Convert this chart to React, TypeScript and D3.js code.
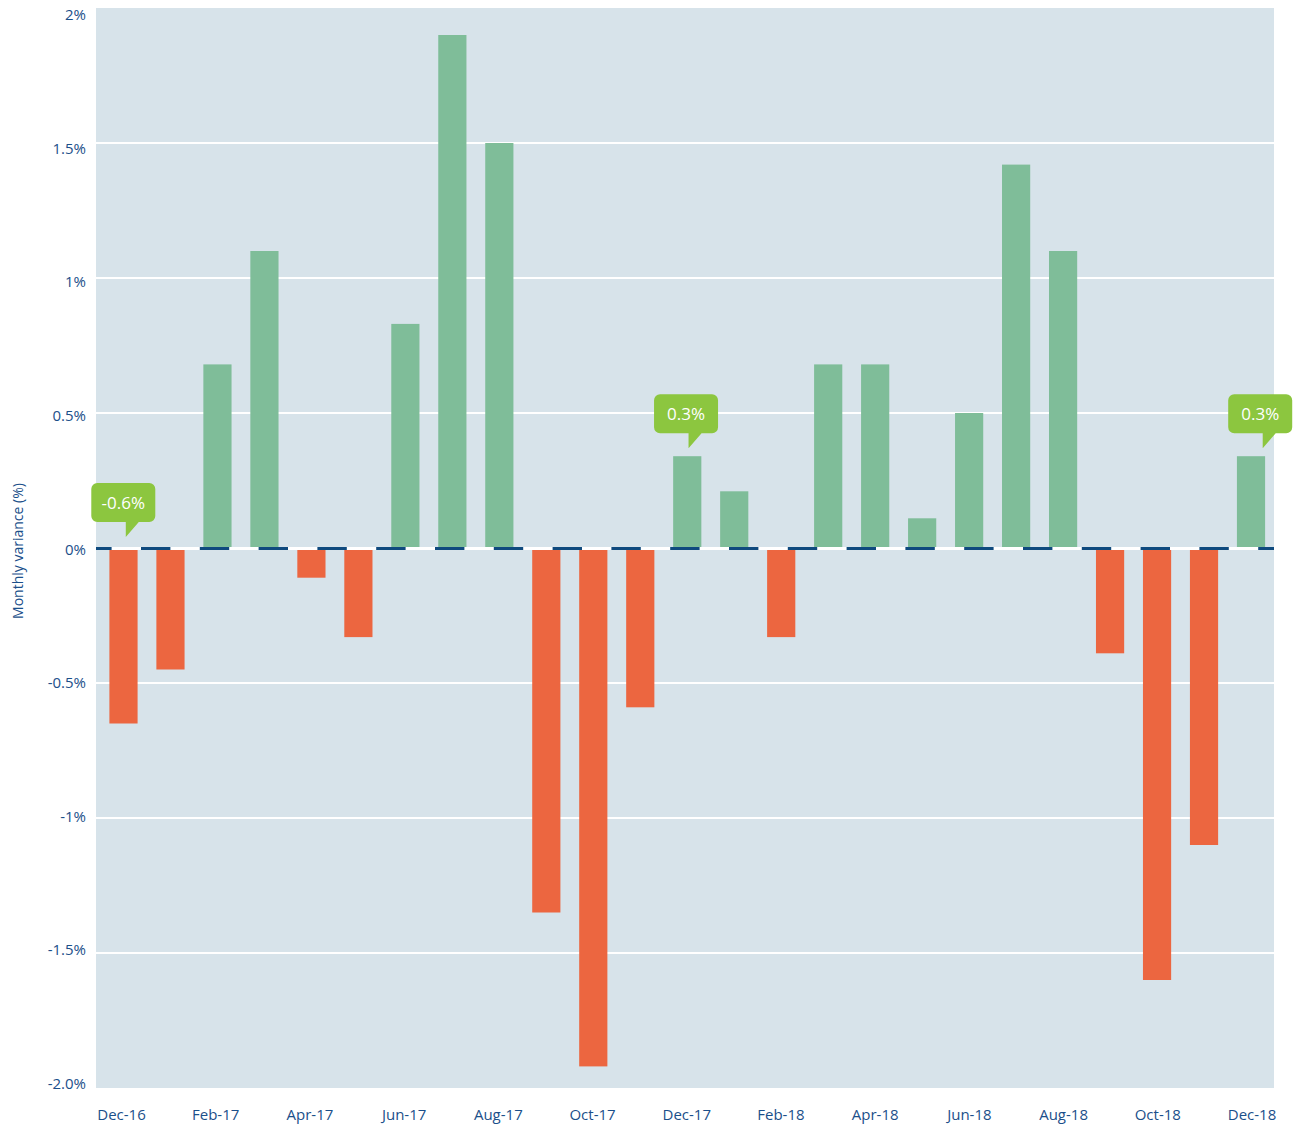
import React from 'react';
import * as d3 from 'd3';

const months = [
  'Dec-16', 'Jan-17', 'Feb-17', 'Mar-17', 'Apr-17', 'May-17', 'Jun-17', 'Jul-17', 'Aug-17',
  'Sep-17', 'Oct-17', 'Nov-17', 'Dec-17', 'Jan-18', 'Feb-18', 'Mar-18', 'Apr-18', 'May-18',
  'Jun-18', 'Jul-18', 'Aug-18', 'Sep-18', 'Oct-18', 'Nov-18', 'Dec-18',
];
const variance = [
  -0.65, -0.45, 0.68, 1.1, -0.11, -0.33, 0.83, 1.9, 1.5,
  -1.35, -1.92, -0.59, 0.34, 0.21, -0.33, 0.68, 0.68, 0.11,
  0.5, 1.42, 1.1, -0.39, -1.6, -1.1, 0.34,
];
const xTickLabels = [
  'Dec-16', 'Feb-17', 'Apr-17', 'Jun-17', 'Aug-17', 'Oct-17', 'Dec-17',
  'Feb-18', 'Apr-18', 'Jun-18', 'Aug-18', 'Oct-18', 'Dec-18',
];
const yTickValues = [2, 1.5, 1, 0.5, 0, -0.5, -1, -1.5, -2];
const yTickLabels = ['2%', '1.5%', '1%', '0.5%', '0%', '-0.5%', '-1%', '-1.5%', '-2.0%'];
const calloutMonths = ['Dec-16', 'Dec-17', 'Dec-18'];
const calloutLabels = ['-0.6%', '0.3%', '0.3%'];

const W = 1294;
const H = 1126;
const PLOT = { left: 96, right: 1274, top: 8, bottom: 1088 };
const FONT = '"Open Sans", "Noto Sans", sans-serif';
const NAVY = '#1b4f8a';
const GREEN = '#7fbd99';
const RED = '#ec6640';
const BG = '#d7e3ea';
const CALLOUT = '#8cc63f';

export default function App() {
  const y = d3.scaleLinear().domain([-2, 2]).range([PLOT.bottom, PLOT.top]);
  const yLabel = d3.scaleLinear().domain([-2, 2]).range([1083, 14]);
  const x = d3
    .scaleBand<string>()
    .domain(months)
    .range([100, 1274.5])
    .paddingInner(0.4)
    .paddingOuter(0.2);
  const xLabel = d3.scalePoint<string>().domain(xTickLabels).range([121.5, 1252]);
  const bw = x.bandwidth();
  const y0 = y(0);

  // per-callout placement nudges relative to the bar centre (style only)
  const tipOffset: Record<string, number> = { 'Dec-16': 2.3, 'Dec-17': 1.3, 'Dec-18': 11.7 };

  const callouts = calloutMonths.map((m, i) => {
    const idx = months.indexOf(m);
    const v = variance[idx];
    const cx = (x(m) as number) + bw / 2;
    const tipX = cx + (tipOffset[m] || 0);
    const tipY = v >= 0 ? y(v) - 8 : y0 - 11;
    const boxW = 64;
    const boxH = 39;
    const ptrH = 15;
    const ptrW = 13;
    const bx = tipX - 34.5;
    const bBottom = tipY - ptrH;
    const by = bBottom - boxH;
    const r = 6;
    const p = d3.path();
    p.moveTo(bx + r, by);
    p.lineTo(bx + boxW - r, by);
    p.arcTo(bx + boxW, by, bx + boxW, by + r, r);
    p.lineTo(bx + boxW, bBottom - r);
    p.arcTo(bx + boxW, bBottom, bx + boxW - r, bBottom, r);
    p.lineTo(tipX + ptrW, bBottom);
    p.lineTo(tipX, tipY);
    p.lineTo(tipX, bBottom);
    p.lineTo(bx + r, bBottom);
    p.arcTo(bx, bBottom, bx, bBottom - r, r);
    p.lineTo(bx, by + r);
    p.arcTo(bx, by, bx + r, by, r);
    p.closePath();
    return { key: m, d: p.toString(), tx: bx + boxW / 2, ty: by + boxH / 2, label: calloutLabels[i] };
  });

  return (
    <svg
      width={W}
      height={H}
      style={{ position: 'absolute', left: 0, top: 0, fontFamily: FONT }}
    >
      <rect
        x={PLOT.left}
        y={PLOT.top}
        width={PLOT.right - PLOT.left}
        height={PLOT.bottom - PLOT.top}
        fill={BG}
      />
      {yTickValues
        .filter((v) => v !== 2 && v !== -2)
        .map((v) => (
          <line
            key={'g' + v}
            x1={PLOT.left}
            x2={PLOT.right}
            y1={y(v)}
            y2={y(v)}
            stroke="#ffffff"
            strokeWidth={2}
          />
        ))}
      {months.map((m, i) => {
        const v = variance[i];
        const top = v >= 0 ? y(v) : y0;
        const h = Math.abs(y(v) - y0);
        return (
          <rect
            key={m}
            x={x(m)}
            y={top}
            width={bw}
            height={h}
            fill={v >= 0 ? GREEN : RED}
          />
        );
      })}
      <line x1={PLOT.left} x2={PLOT.right} y1={y0 + 0.5} y2={y0 + 0.5} stroke="#ffffff" strokeWidth={3} />
      <line
        x1={PLOT.left}
        x2={PLOT.right}
        y1={y0 + 0.5}
        y2={y0 + 0.5}
        stroke="#0f4a7e"
        strokeWidth={3}
        strokeDasharray="29.4 29.4"
        strokeDashoffset={13.8}
      />
      {yTickValues.map((v, i) => (
        <text
          key={'yl' + v}
          x={86}
          y={yLabel(v)}
          textAnchor="end"
          dominantBaseline="central"
          fontSize={15}
          fill={NAVY}
        >
          {yTickLabels[i]}
        </text>
      ))}
      {xTickLabels.map((l) => (
        <text
          key={'xl' + l}
          x={xLabel(l)}
          y={1114}
          textAnchor="middle"
          dominantBaseline="central"
          fontSize={15}
          fill={NAVY}
        >
          {l}
        </text>
      ))}
      <text
        transform={`translate(17,${551}) rotate(-90)`}
        textAnchor="middle"
        dominantBaseline="central"
        fontSize={14}
        fill={NAVY}
      >
        Monthly variance (%)
      </text>
      {callouts.map((c) => (
        <g key={c.key}>
          <path d={c.d} fill={CALLOUT} />
          <text
            x={c.tx}
            y={c.ty}
            textAnchor="middle"
            dominantBaseline="central"
            fontSize={17}
            fill="#ffffff"
          >
            {c.label}
          </text>
        </g>
      ))}
    </svg>
  );
}
